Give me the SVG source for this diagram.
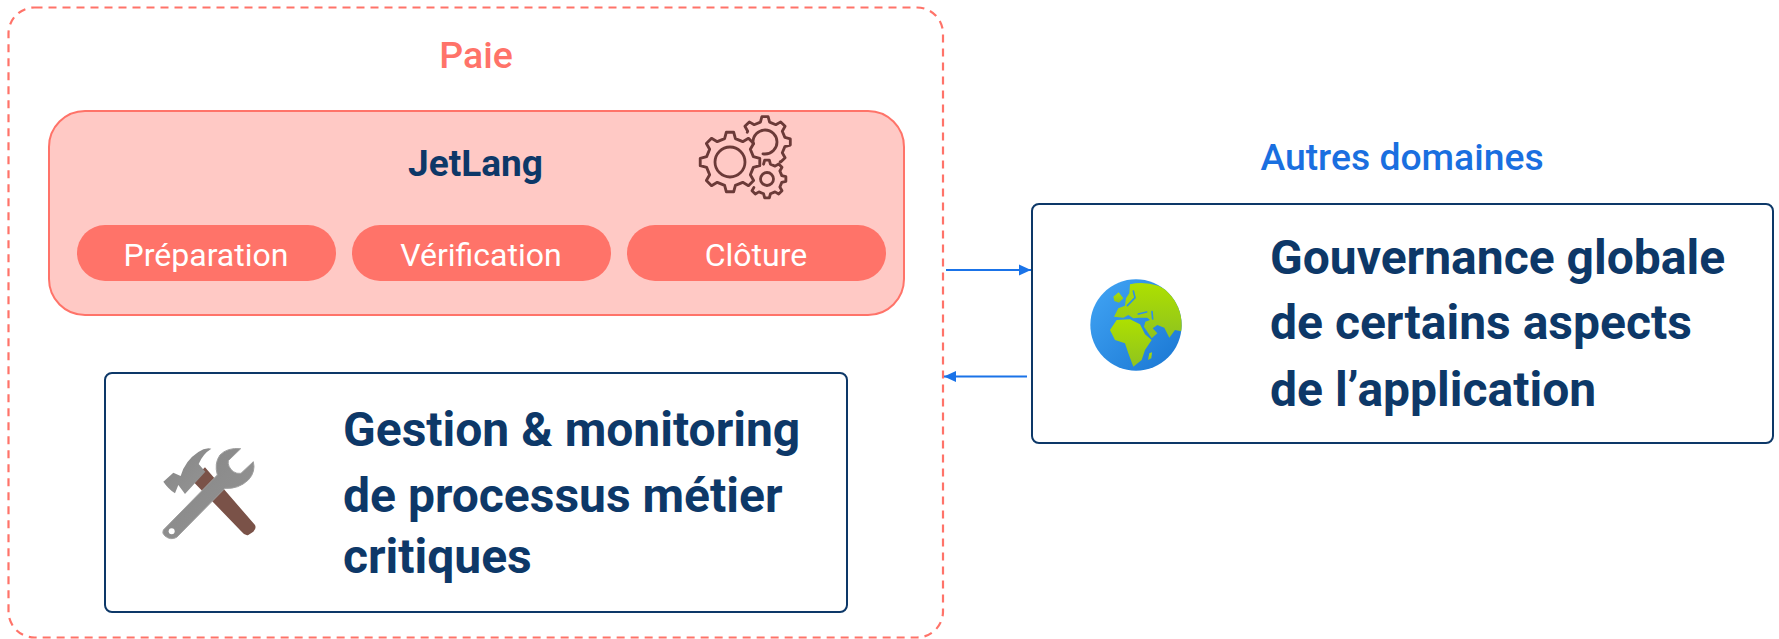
<svg xmlns="http://www.w3.org/2000/svg" xmlns:xlink="http://www.w3.org/1999/xlink" width="1779" height="639" viewBox="0 0 1779 639">
<style>
text{font-family:Roboto,"Liberation Sans",sans-serif;text-anchor:middle}
.pill{fill:#ff7369}
.pt{fill:#fff;font-size:32px}
.box{fill:#fff;stroke:#0d3868;stroke-width:2}
.big{fill:#0d3868;font-size:48px;font-weight:700;text-anchor:start}
.gear{fill:none;stroke:#6b3a38;stroke-linejoin:round;stroke-linecap:round}
.conn{stroke:#1a73e8;stroke-width:2;fill:none}
</style>
<defs>
<marker id="arr" markerUnits="userSpaceOnUse" markerWidth="13" markerHeight="12" refX="12" refY="6" orient="auto"><path d="M0 .5L12 6L0 11.5z" fill="#1a73e8"/></marker>
<linearGradient id="gl" x1="0" y1="0" x2="1" y2="1"><stop offset="0" stop-color="#42a5f5"/><stop offset="1" stop-color="#1976d2"/></linearGradient>
<linearGradient id="ld" x1="0" y1="0" x2="0" y2="1"><stop offset="0" stop-color="#aee000"/><stop offset="1" stop-color="#8fc31f"/></linearGradient>
<linearGradient id="st" x1="0" y1="0" x2="1" y2="1"><stop offset="0" stop-color="#858585"/><stop offset="1" stop-color="#959595"/></linearGradient>
<clipPath id="gc"><circle cx="198" cy="180" r="137"/></clipPath>
<path id="g" pathLength="100" d="M77.9-18L99.25-12.2L99.25 12.2L77.9 18L67.8 42.4L78.8 61.6L61.6 78.8L42.4 67.8L18 77.9L12.2 99.25L-12.2 99.25L-18 77.9L-42.4 67.8L-61.6 78.8L-78.8 61.6L-67.8 42.4L-77.9 18L-99.25 12.2L-99.25-12.2L-77.9-18L-67.8-42.4L-78.8-61.6L-61.6-78.8L-42.4-67.8L-18-77.9L-12.2-99.25L12.2-99.25L18-77.9L42.4-67.8L61.6-78.8L78.8-61.6L67.8-42.4z"/>
</defs>
<rect width="1779" height="639" fill="#fff"/>
<g id="paie">
<rect x="8.500" y="7.500" width="934.500" height="630" rx="26" fill="none" stroke="#ff7369" stroke-width="2.200" stroke-dasharray="8 6"/>
<text x="476" y="68" font-size="37.500" font-weight="500" fill="#ff7369">Paie</text>
</g>
<g id="jetlang">
<rect x="49" y="111" width="855" height="204" rx="36" fill="#ffc9c5" stroke="#ff7369" stroke-width="2"/>
<text x="475.500" y="176" font-size="37" font-weight="700" fill="#0d3868">JetLang</text>
<g id="gears" class="gear">
<use xlink:href="#g" transform="translate(765 142) scale(.255)" stroke-width="11" stroke-dasharray="18.9 43 38.1"/>
<circle cx="765" cy="142" r="12" stroke-width="2.800" pathLength="100" stroke-dasharray="27.8 19.4 52.8"/>
<use xlink:href="#g" transform="translate(767 179) scale(.19)" stroke-width="15" stroke-dasharray="46.1 28.9 25"/>
<circle cx="767" cy="179" r="6.500" stroke-width="2.800"/>
<use xlink:href="#g" transform="translate(730 162) scale(.3)" stroke-width="9.500"/>
<circle cx="730" cy="162" r="15" stroke-width="2.800"/>
</g>
</g>
<g id="preparation"><rect class="pill" x="77" y="225" width="259" height="56" rx="28"/><text class="pt" x="206" y="266">Préparation</text></g>
<g id="verification"><rect class="pill" x="352" y="225" width="259" height="56" rx="28"/><text class="pt" x="481" y="266">Vérification</text></g>
<g id="cloture"><rect class="pill" x="627" y="225" width="259" height="56" rx="28"/><text class="pt" x="756" y="266">Clôture</text></g>
<g id="gestion">
<rect class="box" x="105" y="373" width="742" height="239" rx="7"/>
<g transform="translate(140 430) scale(.3333)">
<path d="M155 150L195 112L345 285Q350 295 340 305L325 315Q315 318 305 305z" fill="#7a5248"/>
<path d="M70 155L100 128L122 138Q135 92 175 66Q195 52 214 56Q188 72 176 102L196 125L135 192L115 165L105 190Q85 177 70 155z" fill="url(#st)"/>
<path d="M70 300L232 135Q222 100 240 75Q262 52 302 56L265 92Q262 110 280 125Q290 132 303 130L340 95Q348 125 325 150Q295 178 255 175L110 322Q92 332 75 318Q65 310 70 300z" fill="url(#st)" stroke="#a0a0a0" stroke-width="3"/>
<circle cx="95" cy="304" r="9" fill="#fff"/>
</g>
<text class="big"><tspan x="343" y="446">Gestion &amp; monitoring</tspan><tspan x="343" y="512">de processus métier</tspan><tspan x="343" y="573">critiques</tspan></text>
</g>
<g id="gouvernance">
<rect class="box" x="1032" y="204" width="741" height="239" rx="7"/>
<g transform="translate(1070 265) scale(.3333)">
<circle cx="198" cy="180" r="137" fill="url(#gl)"/>
<g clip-path="url(#gc)">
<g fill="url(#ld)">
<path d="M180 58Q220 48 265 62L340 100L345 200L330 198L315 195L298 218L283 188L262 180L248 190L262 205L245 220L222 185L226 170L240 165L232 158L205 158L190 160L175 150L160 158L132 155L145 130L165 122L168 100L178 85z"/>
<path d="M120 195L140 165L180 163L210 178L225 208L245 225L225 255L215 285L190 305L175 265L165 235L135 225z"/>
<path d="M130 95L146 82L160 100L147 113L133 108z"/>
<path d="M238 265L246 262L244 280L234 285z"/>
</g>
<g fill="none" stroke="#2f8fe6" stroke-width="5" stroke-linecap="round">
<path d="M172 122L195 98L190 78"/>
<path d="M205 147L230 141"/>
<path d="M246 140L248 162"/>
</g>
</g>
</g>
<text class="big"><tspan x="1270" y="274">Gouvernance globale</tspan><tspan x="1270" y="339">de certains aspects</tspan><tspan x="1270" y="406">de l’application</tspan></text>
</g>
<text id="autres" x="1402" y="170" font-size="37.300" font-weight="500" fill="#1a6fe0">Autres domaines</text>
<g id="connectors">
<path class="conn" d="M946 270H1031" marker-end="url(#arr)"/>
<path class="conn" d="M1027 376.500H944" marker-end="url(#arr)"/>
</g>
</svg>
